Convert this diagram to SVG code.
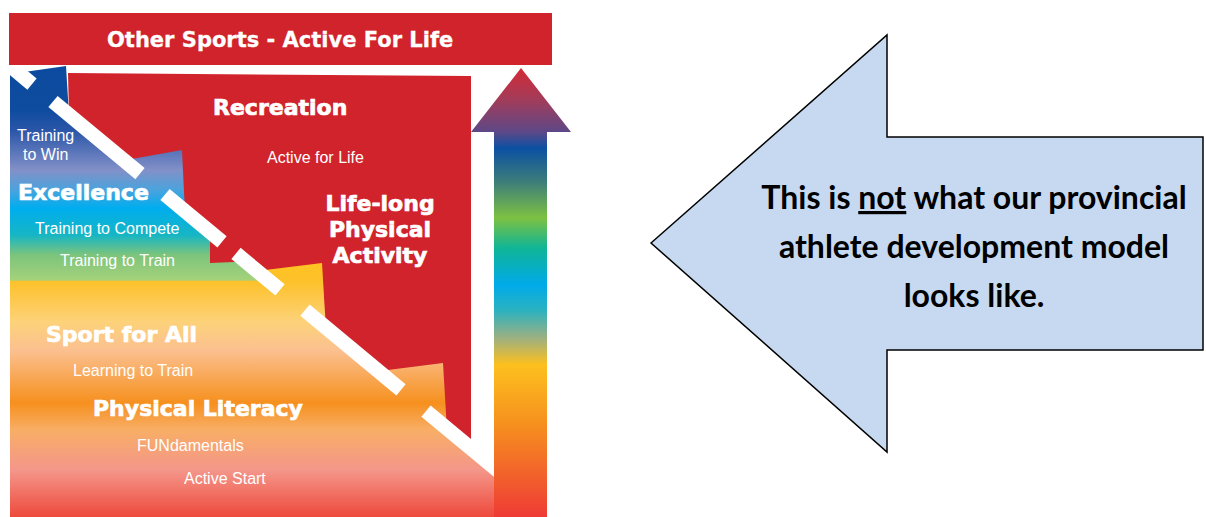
<svg xmlns="http://www.w3.org/2000/svg" width="1206" height="517" viewBox="0 0 1206 517">
<style>
.h{font-family:"DejaVu Sans","Liberation Sans",sans-serif;font-weight:bold;font-size:22px;fill:#fff;stroke:#fff;stroke-width:0.7px}
.t{font-family:"DejaVu Sans","Liberation Sans",sans-serif;font-weight:bold;font-size:21px;fill:#fff;stroke:#fff;stroke-width:0.3px}
.s{font-family:"Liberation Sans",Arial,sans-serif;font-size:16px;fill:#fff}
.c{font-family:Lato,"Liberation Sans",sans-serif;font-weight:bold;font-size:32px;fill:#000;text-anchor:middle}
.red{fill:#d1232b}
.stripe{stroke:#fff;stroke-width:14.5;stroke-linecap:butt}
</style>
<defs>
<linearGradient id="gMain" gradientUnits="userSpaceOnUse" x1="0" y1="66" x2="0" y2="517">
<stop offset="0" stop-color="#0b4a9e"/>
<stop offset="0.098" stop-color="#0e4c9f"/>
<stop offset="0.142" stop-color="#2a55a8"/>
<stop offset="0.231" stop-color="#8290c8"/>
<stop offset="0.275" stop-color="#4aa3dd"/>
<stop offset="0.315" stop-color="#00adef"/>
<stop offset="0.375" stop-color="#16b6c4"/>
<stop offset="0.419" stop-color="#7cc47c"/>
<stop offset="0.475" stop-color="#a5d27a"/>
<stop offset="0.477" stop-color="#fdc12a"/>
<stop offset="0.568" stop-color="#fdd27a"/>
<stop offset="0.630" stop-color="#fbc090"/>
<stop offset="0.747" stop-color="#f6901e"/>
<stop offset="0.807" stop-color="#f8ae66"/>
<stop offset="0.896" stop-color="#f4968a"/>
<stop offset="1" stop-color="#ee4a3c"/>
</linearGradient>
<linearGradient id="gTab3" gradientUnits="userSpaceOnUse" x1="0" y1="263" x2="0" y2="350">
<stop offset="0" stop-color="#fec322"/>
<stop offset="0.207" stop-color="#fdc12a"/>
<stop offset="0.678" stop-color="#fdd27a"/>
<stop offset="1" stop-color="#fbc090"/>
</linearGradient>
<linearGradient id="gArrow" gradientUnits="userSpaceOnUse" x1="0" y1="68" x2="0" y2="517">
<stop offset="0" stop-color="#d42a35"/>
<stop offset="0.071" stop-color="#a23c5a"/>
<stop offset="0.143" stop-color="#5c4888"/>
<stop offset="0.178" stop-color="#0b50a2"/>
<stop offset="0.254" stop-color="#3d7e7a"/>
<stop offset="0.334" stop-color="#7dc142"/>
<stop offset="0.401" stop-color="#10b596"/>
<stop offset="0.483" stop-color="#00aae9"/>
<stop offset="0.539" stop-color="#2ab2c0"/>
<stop offset="0.601" stop-color="#9cb082"/>
<stop offset="0.661" stop-color="#fdc01e"/>
<stop offset="0.788" stop-color="#f6921e"/>
<stop offset="1" stop-color="#ef3b36"/>
</linearGradient>
</defs>
<rect width="1206" height="517" fill="#fff"/>

<g id="model">
  <polygon id="stages" points="10,74 66,66 69,115.3 494,468 494,517 10,517" fill="url(#gMain)"/>
  <polygon id="recreation-area" class="red" points="68,73 471,76 471,449 245,261.4 210,263 210,232.3 69,115.3"/>
  <polygon id="tab-excellence" points="122,160.8 182,150 185,213.1" fill="url(#gMain)"/>
  <polygon id="tab-train" points="255,271.2 322,263 326,330.1" fill="url(#gTab3)"/>
  <polygon id="tab-literacy" points="376,371.5 443,363 447,430.5" fill="url(#gMain)"/>
  <g id="stripes">
    <line class="stripe" x1="10" y1="65.8" x2="32" y2="84.1"/>
    <line class="stripe" x1="53" y1="101.5" x2="140" y2="173.7"/>
    <line class="stripe" x1="165" y1="194.5" x2="222" y2="241.8"/>
    <line class="stripe" x1="236" y1="253.4" x2="280" y2="289.9"/>
    <line class="stripe" x1="305" y1="310.2" x2="401" y2="389.8"/>
    <line class="stripe" x1="426" y1="411.1" x2="500" y2="472.5"/>
  </g>
  <polygon id="up-arrow" points="494,517 494,132 471,132 521,68 571,132 547,132 547,517" fill="url(#gArrow)"/>
  <g id="banner">
    <rect class="red" x="9" y="13" width="543" height="52"/>
    <text class="t" x="107" y="47">Other Sports - Active For Life</text>
  </g>
  <g id="labels">
    <text class="h" x="213" y="115">Recreation</text>
    <text class="s" x="267" y="163">Active for Life</text>
    <text class="h" x="380" y="211" text-anchor="middle">Life-long</text>
    <text class="h" x="380" y="237" text-anchor="middle">Physical</text>
    <text class="h" x="380" y="263" text-anchor="middle">Activity</text>
    <text class="s" x="17" y="141">Training</text>
    <text class="s" x="23" y="160">to Win</text>
    <text class="h" x="18" y="200">Excellence</text>
    <text class="s" x="35" y="234">Training to Compete</text>
    <text class="s" x="60" y="266">Training to Train</text>
    <text class="h" x="46" y="342">Sport for All</text>
    <text class="s" x="73" y="376">Learning to Train</text>
    <text class="h" x="93" y="416">Physical Literacy</text>
    <text class="s" x="137" y="451">FUNdamentals</text>
    <text class="s" x="184" y="484">Active Start</text>
  </g>
</g>

<g id="callout">
  <polygon points="651,243 887,35 887,137 1203,137 1203,350 887,350 887,452" fill="#c6d9f0" stroke="#000" stroke-width="1.5"/>
  <text class="c" x="974" y="209">This is <tspan text-decoration="underline">not</tspan> what our provincial</text>
  <text class="c" x="974" y="258">athlete development model</text>
  <text class="c" x="974" y="307">looks like.</text>
</g>
</svg>
